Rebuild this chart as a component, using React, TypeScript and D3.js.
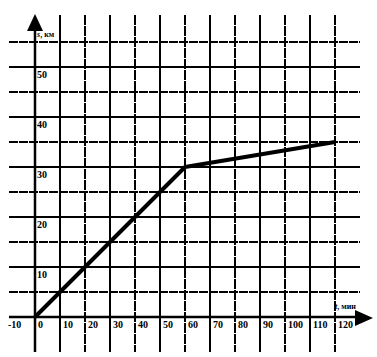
import React from "react";
import * as d3 from "d3";

const timeMin = [0, 60, 120];
const distKm = [0, 30, 35];
const xGrid = [10, 20, 30, 40, 50, 60, 70, 80, 90, 100, 110, 120];
const yGrid = [5, 10, 15, 20, 25, 30, 35, 40, 45, 50, 55];
const xTickLabels = [-10, 0, 10, 20, 30, 40, 50, 60, 70, 80, 90, 100, 110, 120];
const yTickLabels = [10, 20, 30, 40, 50];

export default function App() {
  const W = 377, H = 357;
  const x = d3.scaleLinear().domain([0, 120]).range([35, 335]);
  const y = d3.scaleLinear().domain([0, 50]).range([317, 67]);
  const line = d3.line<number>().x((_, i) => x(timeMin[i])).y((d) => y(d));
  const font = "'Liberation Serif', 'DejaVu Serif', serif";
  return (
    <svg width={W} height={H} style={{ position: "absolute", left: 0, top: 0, background: "#fff" }}>
      <rect width={W} height={H} fill="#fff" />
      {yGrid.map((v, i) => (
        <line key={"h" + v} x1={9} x2={360} y1={y(v)} y2={y(v)} stroke="#000" strokeWidth={2}
          strokeDasharray={i % 2 === 0 ? "9,1" : undefined} />
      ))}
      {xGrid.map((v, i) => (
        <line key={"v" + v} x1={x(v)} x2={x(v)} y1={15} y2={352} stroke="#000" strokeWidth={2}
          strokeDasharray={i % 2 === 1 ? "10,1" : undefined} />
      ))}
      <line x1={9} x2={360} y1={y(0)} y2={y(0)} stroke="#000" strokeWidth={2.5} />
      <line x1={x(0)} x2={x(0)} y1={28} y2={352} stroke="#000" strokeWidth={2.5} />
      <polygon points={`${x(0)},14 ${x(0) - 8},31 ${x(0) + 8},31`} fill="#000" />
      <polygon points={`373,${y(0) + 1} 355,${y(0) - 7} 355,${y(0) + 9}`} fill="#000" />
      <path d={line(distKm) || ""} fill="none" stroke="#000" strokeWidth={4} strokeLinejoin="round" />
      {yTickLabels.map((v) => (
        <text key={"yl" + v} x={x(0) + 2} y={y(v) + 11} fontFamily={font} fontSize={10} fontWeight="bold">{v}</text>
      ))}
      {xTickLabels.map((v) => (
        <text key={"xl" + v} x={v < 0 ? 8 : x(v) + 3} y={328} fontFamily={font} fontSize={10} fontWeight="bold">{v}</text>
      ))}
      <text x={37} y={37} fontFamily={font} fontSize={8} fontWeight="bold"><tspan fontStyle="italic">s</tspan>, км</text>
      <text x={335} y={309} fontFamily={font} fontSize={8} fontWeight="bold"><tspan fontStyle="italic">t</tspan>, мин</text>
    </svg>
  );
}
